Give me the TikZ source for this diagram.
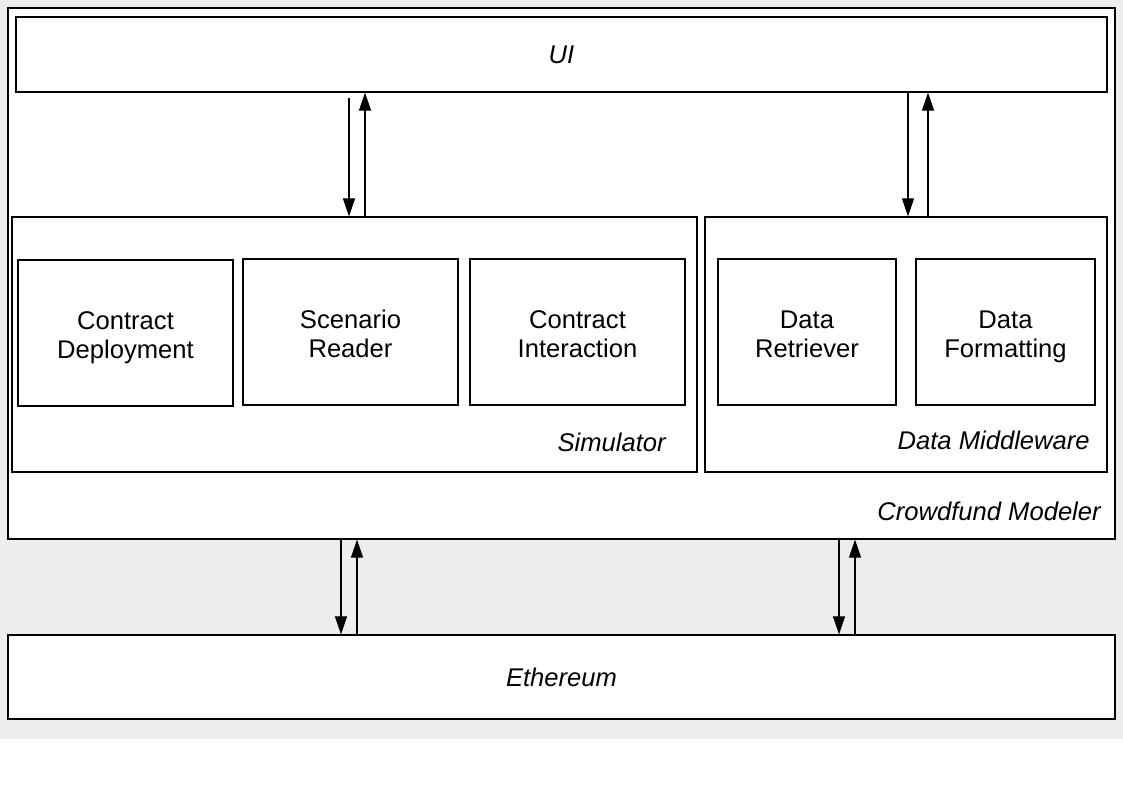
\documentclass[tikz,border=0pt]{standalone}
\usepackage{fontspec}
\setmainfont{Liberation Sans}
\usetikzlibrary{fit,arrows.meta}
\definecolor{bggray}{HTML}{EDEDED}
\begin{document}
\begin{tikzpicture}[x=0.75pt,y=-0.75pt,
  box/.style={draw=black,line width=0.9pt,fill=white,inner sep=0pt},
  txt/.style={inner sep=0pt,align=center,yshift=-4pt,font=\fontsize{19.2}{21.8}\selectfont},
  lbl/.style={inner sep=0pt,font=\fontsize{19.2}{21.8}\selectfont\itshape},
  arr/.style={line width=0.8pt,-{Triangle[length=13.5pt,width=9pt]}}]
\useasboundingbox (0,0) rectangle (1123,794);
\fill[bggray] (0,0) rectangle (1123,739);
\node[box,fit={(8,8) (1115,539)}] (cm) {};
\node[box,fit={(16,17) (1107,92)}] (ui) {};
\node[lbl] (uil) at (ui.center) {UI};
\node[box,fit={(12,217) (697,472)}] (sim) {};
\node[box,fit={(705,217) (1107,472)}] (dm) {};
\node[box,fit={(18,260) (233,406)}] (cd) {};
\node[box,fit={(243,259) (458,405)}] (sr) {};
\node[box,fit={(470,259) (685,405)}] (ci) {};
\node[box,fit={(718,259) (896,405)}] (dr) {};
\node[box,fit={(916,259) (1095,405)}] (df) {};
\node[txt] (cdt) at (cd.center) {\strut Contract\\Deployment\strut};
\node[txt] (srt) at (sr.center) {\strut Scenario\\Reader\strut};
\node[txt] (cit) at (ci.center) {\strut Contract\\Interaction\strut};
\node[txt] (drt) at (dr.center) {\strut Data\\Retriever\strut};
\node[txt] (dft) at (df.center) {\strut Data\\Formatting\strut};
\node[lbl,anchor=base east] (siml) at (666,451) {Simulator};
\node[lbl,anchor=base east] (dml) at (1090,449) {Data Middleware};
\node[lbl,anchor=base east] (cml) at (1101,520) {Crowdfund Modeler};
\node[box,fit={(8,635) (1115,719)}] (eth) {};
\node[lbl] (ethl) at (eth.center) {Ethereum};
\coordinate (a1) at (349,0);
\coordinate (a2) at (365,0);
\coordinate (a3) at (908,0);
\coordinate (a4) at (928,0);
\coordinate (b1) at (341,0);
\coordinate (b2) at (357,0);
\coordinate (b3) at (839,0);
\coordinate (b4) at (855,0);
\draw[arr,shorten <=4pt] (ui.south -| a1) -- (sim.north -| a1);
\draw[arr] (sim.north -| a2) -- (ui.south -| a2);
\draw[arr] (ui.south -| a3) -- (dm.north -| a3);
\draw[arr] (dm.north -| a4) -- (ui.south -| a4);
\draw[arr] (cm.south -| b1) -- (eth.north -| b1);
\draw[arr] (eth.north -| b2) -- (cm.south -| b2);
\draw[arr] (cm.south -| b3) -- (eth.north -| b3);
\draw[arr] (eth.north -| b4) -- (cm.south -| b4);
\end{tikzpicture}
\end{document}
